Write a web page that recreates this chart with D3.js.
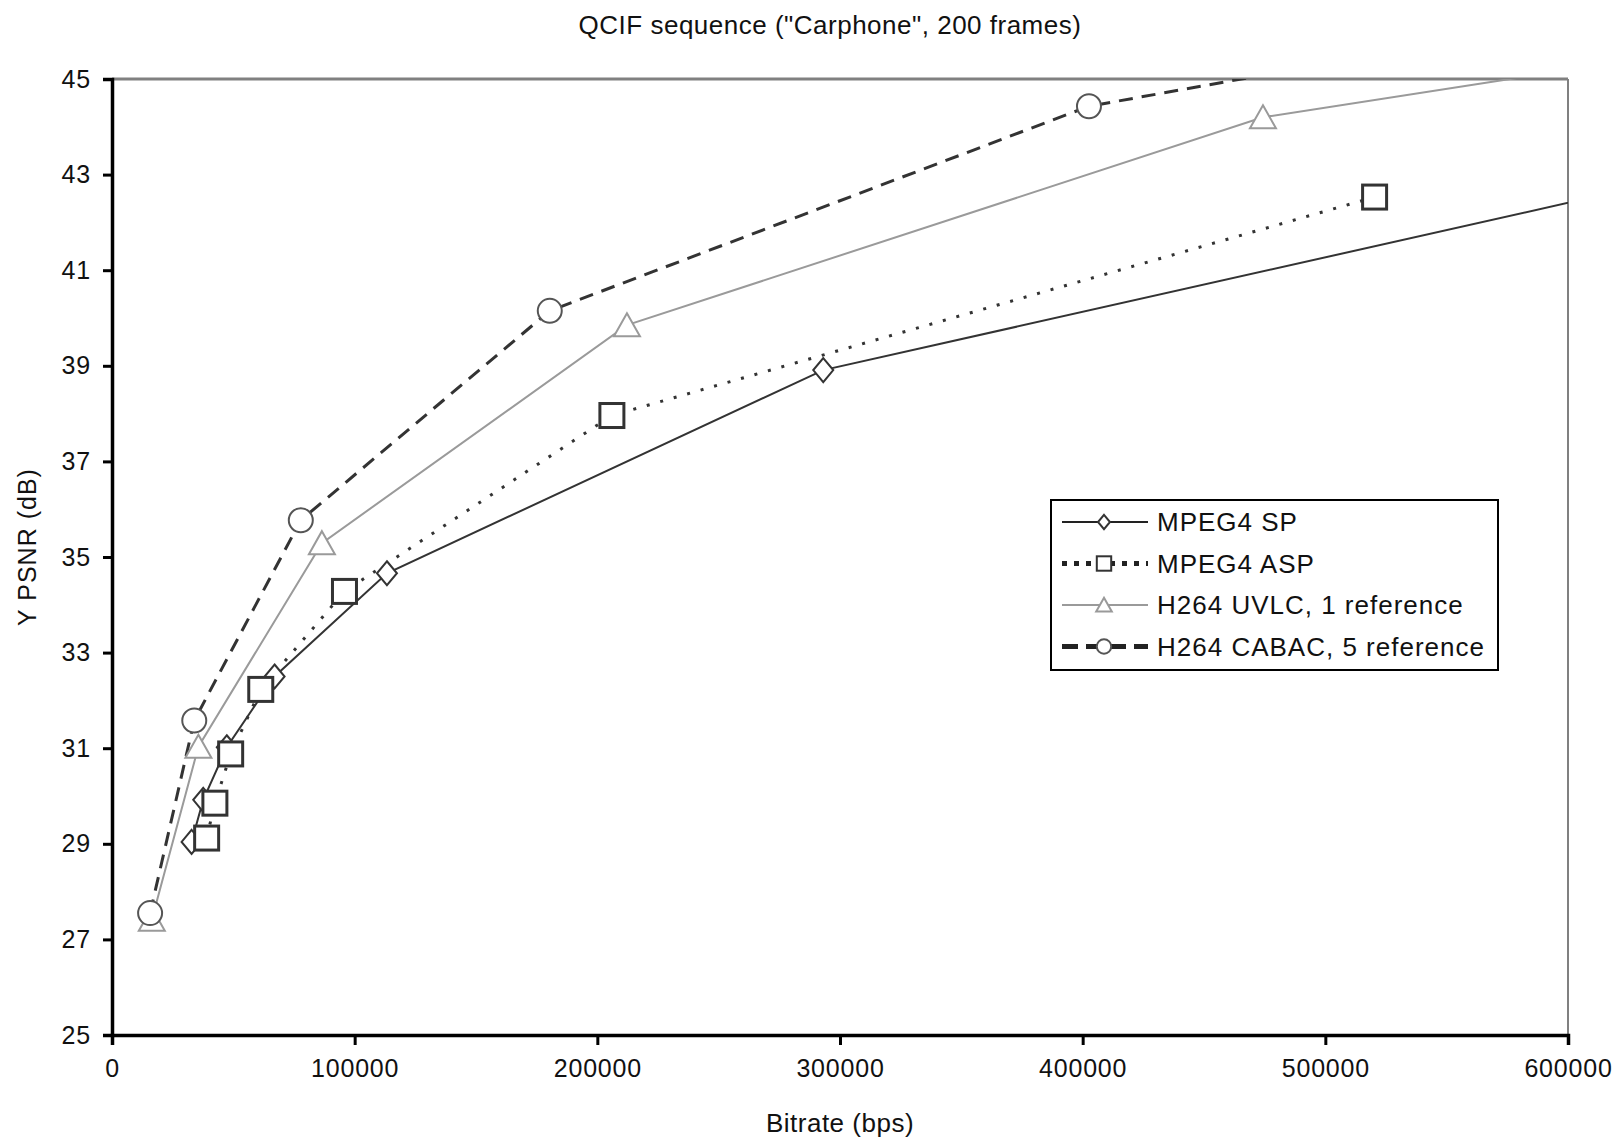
<!DOCTYPE html>
<html><head><meta charset="utf-8">
<script src="https://cdn.jsdelivr.net/npm/d3@7"></script>
<style>body{margin:0;background:#fff;} text{font-family:"Liberation Sans",Arial,sans-serif;fill:#111;}</style>
</head><body><svg id="c" width="1620" height="1140"></svg>
<script>
// ---- data ----
const title = 'QCIF sequence ("Carphone", 200 frames)';
const xLabel = 'Bitrate (bps)';
const yLabel = 'Y PSNR (dB)';
const xTicks = [0, 100000, 200000, 300000, 400000, 500000, 600000];
const yTicks = [25, 27, 29, 31, 33, 35, 37, 39, 41, 43, 45];
const seriesNames = ['MPEG4 SP', 'MPEG4 ASP', 'H264 UVLC, 1 reference', 'H264 CABAC, 5 reference'];
// last points of some series lie beyond the axis range and are clipped, as in the reference
const spX = [32800, 37600, 47300, 67000, 113300, 293100, 700000];
const spY = [29.04, 29.92, 31.02, 32.5, 34.66, 38.91, 43.55];
const aspX = [39000, 42400, 48900, 61300, 95800, 206000, 520300];
const aspY = [29.12, 29.85, 30.88, 32.23, 34.28, 37.96, 42.53];
const uvlcX = [16400, 35600, 86500, 212200, 474300, 650000];
const uvlcY = [27.41, 31.03, 35.29, 39.85, 44.2, 45.58];
const cabacX = [15700, 33900, 77800, 180400, 402600, 560000];
const cabacY = [27.55, 31.58, 35.77, 40.15, 44.43, 45.86];

const svg = d3.select('#c');
const L = 112, R = 1568, T = 79, B = 1035;
const x = d3.scaleLinear().domain([0, 600000]).range([L, R]);
const y = d3.scaleLinear().domain([25, 45]).range([B, T]);

svg.append('text').attr('x', 830).attr('y', 34).attr('text-anchor', 'middle')
  .style('font-size', '26px').style('letter-spacing', '0.5px').text(title);

// frame: top and right gray
svg.append('line').attr('x1', L).attr('x2', R).attr('y1', T).attr('y2', T).attr('stroke', '#808080').attr('stroke-width', 3);
svg.append('line').attr('x1', R).attr('x2', R).attr('y1', T).attr('y2', B).attr('stroke', '#808080').attr('stroke-width', 2);

// axes
const xAxis = svg.append('g').attr('transform', `translate(0,${B})`)
  .call(d3.axisBottom(x).tickValues(xTicks).tickFormat(d3.format('d')).tickSizeOuter(0).tickSize(10).tickPadding(14));
const yAxis = svg.append('g').attr('transform', `translate(${L},0)`)
  .call(d3.axisLeft(y).tickValues(yTicks).tickFormat(d3.format('d')).tickSizeOuter(0).tickSize(9).tickPadding(12));
[xAxis, yAxis].forEach(a => {
  a.select('.domain').attr('stroke', '#000').attr('stroke-width', 3.5);
  a.selectAll('.tick line').attr('stroke', '#000').attr('stroke-width', 3);
  a.selectAll('.tick text').style('font-size', '25px').style('letter-spacing', '0.8px')
    .style('font-family', '"Liberation Sans",Arial,sans-serif').attr('fill', '#111');
});

svg.append('text').attr('x', (L + R) / 2).attr('y', 1132).attr('text-anchor', 'middle')
  .style('font-size', '26px').style('letter-spacing', '0.5px').text(xLabel);
svg.append('text').attr('transform', `translate(36,${547}) rotate(-90)`).attr('text-anchor', 'middle')
  .style('font-size', '25px').style('letter-spacing', '1px').text(yLabel);

// clip
svg.append('clipPath').attr('id', 'clip').append('rect')
  .attr('x', L).attr('y', T).attr('width', R - L).attr('height', B - T);
const plot = svg.append('g').attr('clip-path', 'url(#clip)');

const series = [
  {name: seriesNames[0], xs: spX, ys: spY, color: '#333', width: 2, dash: null, marker: 'diamond', mcolor: '#333', msw: 2},
  {name: seriesNames[1], xs: aspX, ys: aspY, color: '#333', width: 3, dash: '3,11', marker: 'square', mcolor: '#333', msw: 3},
  {name: seriesNames[2], xs: uvlcX, ys: uvlcY, color: '#9a9a9a', width: 2, dash: null, marker: 'triangle', mcolor: '#9a9a9a', msw: 2},
  {name: seriesNames[3], xs: cabacX, ys: cabacY, color: '#333', width: 3, dash: '14,9', marker: 'circle', mcolor: '#555', msw: 2}
];

const line = d3.line().x(d => x(d[0])).y(d => y(d[1]));

function drawMarker(g, type, cx, cy, s, color, sw) {
  let el;
  if (type === 'diamond') {
    el = g.append('path').attr('d', `M${cx},${cy - 12*s}L${cx + 10*s},${cy}L${cx},${cy + 12*s}L${cx - 10*s},${cy}Z`);
  } else if (type === 'square') {
    el = g.append('rect').attr('x', cx - 12*s).attr('y', cy - 12*s).attr('width', 24*s).attr('height', 24*s);
  } else if (type === 'triangle') {
    el = g.append('path').attr('d', `M${cx},${cy - 12*s}L${cx + 13*s},${cy + 11*s}L${cx - 13*s},${cy + 11*s}Z`);
  } else {
    el = g.append('circle').attr('cx', cx).attr('cy', cy).attr('r', 12*s);
  }
  el.attr('fill', '#fff').attr('stroke', color).attr('stroke-width', sw);
}

series.forEach(s => {
  const pts = s.xs.map((v, i) => [v, s.ys[i]]);
  plot.append('path').datum(pts).attr('d', line).attr('fill', 'none')
    .attr('stroke', s.color).attr('stroke-width', s.width)
    .attr('stroke-dasharray', s.dash);
});
series.forEach(s => {
  s.xs.forEach((v, i) => drawMarker(plot, s.marker, x(v), y(s.ys[i]), 1, s.mcolor, s.msw));
});

// legend
const lg = svg.append('g');
lg.append('rect').attr('x', 1051).attr('y', 500).attr('width', 447).attr('height', 170)
  .attr('fill', '#fff').attr('stroke', '#000').attr('stroke-width', 2);
const legendStyles = [
  {width: 2, dash: null},
  {width: 5, dash: '5,7'},
  {width: 2, dash: null},
  {width: 5, dash: '16,8'}
];
series.forEach((s, i) => {
  const cy = 522 + i * 41.5;
  const st = legendStyles[i];
  lg.append('line').attr('x1', 1062).attr('x2', 1148).attr('y1', cy).attr('y2', cy)
    .attr('stroke', i === 2 ? '#9a9a9a' : '#222').attr('stroke-width', st.width)
    .attr('stroke-dasharray', st.dash);
  drawMarker(lg, s.marker, 1104, cy, 0.6, s.mcolor, 2);
  lg.append('text').attr('x', 1157).attr('y', cy + 9).style('font-size', '26px')
    .style('letter-spacing', '1px').text(s.name);
});
</script></body></html>
